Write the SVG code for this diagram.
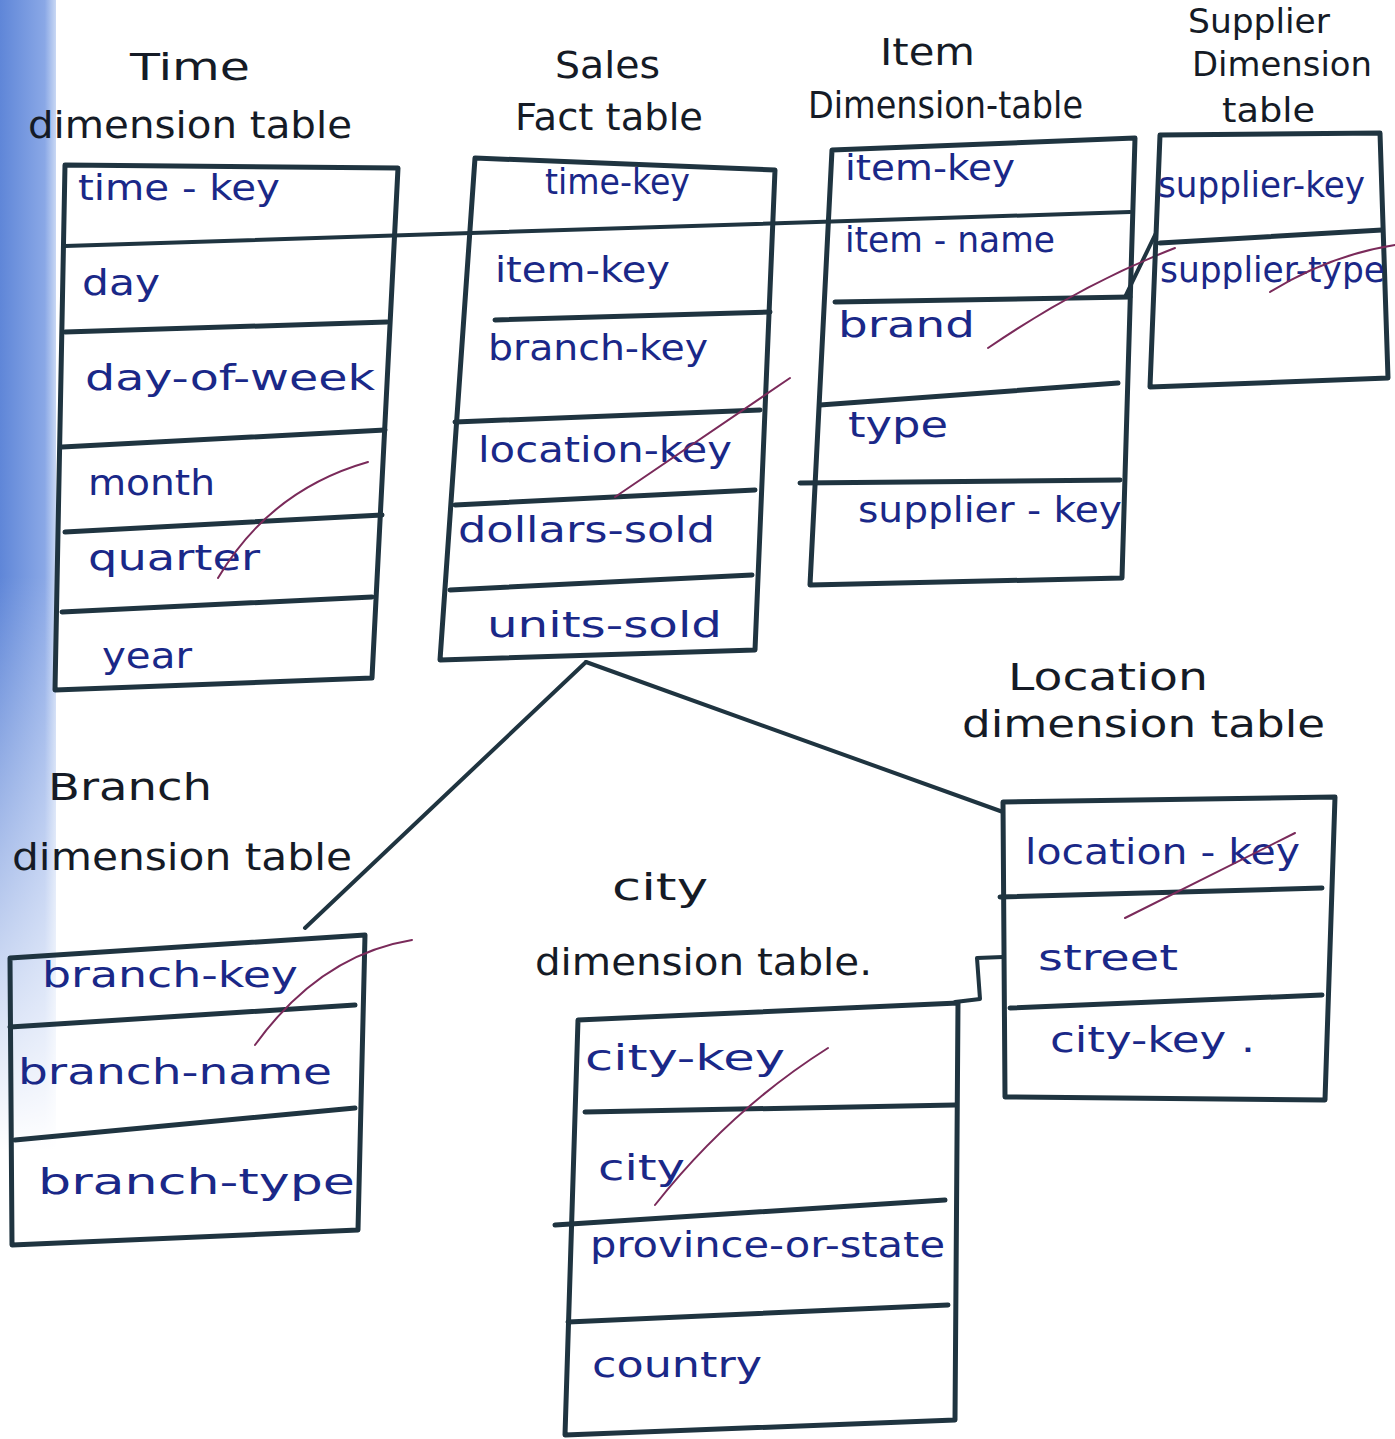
<svg xmlns="http://www.w3.org/2000/svg" width="1395" height="1439" viewBox="0 0 1395 1439">
<defs>
<linearGradient id="margin" x1="0" y1="0" x2="1" y2="0">
<stop offset="0" stop-color="#5f86d8"/>
<stop offset="0.8" stop-color="#8aa8e6"/>
<stop offset="1" stop-color="#c9d8f4"/>
</linearGradient>
<linearGradient id="fadeV" x1="0" y1="0" x2="0" y2="1">
<stop offset="0" stop-color="#fff" stop-opacity="0"/>
<stop offset="0.5" stop-color="#fff" stop-opacity="0"/>
<stop offset="1" stop-color="#fff" stop-opacity="1"/>
</linearGradient>
</defs>
<style>
.tbl{fill:none;stroke:#1f3440;stroke-width:5;stroke-linejoin:round;stroke-linecap:round}
.div{fill:none;stroke:#1f3440;stroke-width:5;stroke-linecap:round}
.con{fill:none;stroke:#1f3440;stroke-width:4;stroke-linecap:round;stroke-linejoin:round}
.mark{fill:none;stroke:#7a2a5a;stroke-width:2;stroke-linecap:round}
.ttl{font-family:"DejaVu Sans",sans-serif;font-size:38px;fill:#151b26}
.fld{font-family:"DejaVu Sans",sans-serif;font-size:36px;fill:#1a2888}
</style>
<rect width="1395" height="1439" fill="#ffffff"/>
<rect x="0" y="0" width="56" height="1150" fill="url(#margin)"/>
<rect x="0" y="0" width="56" height="1151" fill="url(#fadeV)"/>

<g id="connectors">
<path class="con" d="M65,246 L1130,212"/>
<path class="con" d="M1125,297 L1156,233"/>
<path class="con" d="M586,662 L305,928"/>
<path class="con" d="M586,662 L1003,812"/>
<path class="con" d="M1003,957 L977,958 L980,999 L955,1002"/>
</g>

<g id="time-table">
<path class="tbl" d="M65,165 L398,168 L372,678 L55,690 Z"/>
<path class="div" d="M65,332 L387,322 M62,447 L385,430 M65,532 L382,515 M62,612 L372,597"/>
<text class="ttl" x="130" y="80" textLength="120" lengthAdjust="spacingAndGlyphs">Time</text>
<text class="ttl" x="28" y="138" textLength="324" lengthAdjust="spacingAndGlyphs">dimension table</text>
<text class="fld" x="78" y="200" textLength="202" lengthAdjust="spacingAndGlyphs">time - key</text>
<text class="fld" x="82" y="295" textLength="78" lengthAdjust="spacingAndGlyphs">day</text>
<text class="fld" x="85" y="390" textLength="290" lengthAdjust="spacingAndGlyphs">day-of-week</text>
<text class="fld" x="88" y="495" textLength="127" lengthAdjust="spacingAndGlyphs">month</text>
<text class="fld" x="88" y="570" textLength="172" lengthAdjust="spacingAndGlyphs">quarter</text>
<text class="fld" x="102" y="668" textLength="90" lengthAdjust="spacingAndGlyphs">year</text>
<path class="mark" d="M218,578 Q270,490 368,462"/>
</g>

<g id="sales-table">
<path class="tbl" d="M475,158 L775,170 L755,650 L440,660 Z"/>
<path class="div" d="M495,320 L770,312 M455,422 L760,410 M455,505 L755,490 M450,590 L752,575"/>
<text class="ttl" x="555" y="78" textLength="105" lengthAdjust="spacingAndGlyphs">Sales</text>
<text class="ttl" x="515" y="130" textLength="188" lengthAdjust="spacingAndGlyphs">Fact table</text>
<text class="fld" x="545" y="194" textLength="145" lengthAdjust="spacingAndGlyphs">time-key</text>
<text class="fld" x="495" y="282" textLength="175" lengthAdjust="spacingAndGlyphs">item-key</text>
<text class="fld" x="488" y="360" textLength="220" lengthAdjust="spacingAndGlyphs">branch-key</text>
<text class="fld" x="478" y="462" textLength="254" lengthAdjust="spacingAndGlyphs">location-key</text>
<text class="fld" x="458" y="542" textLength="257" lengthAdjust="spacingAndGlyphs">dollars-sold</text>
<text class="fld" x="487" y="637" textLength="235" lengthAdjust="spacingAndGlyphs">units-sold</text>
<path class="mark" d="M615,497 L790,378"/>
</g>

<g id="item-table">
<path class="tbl" d="M832,150 L1135,138 L1122,578 L810,585 Z"/>
<path class="div" d="M835,302 L1130,297 M820,405 L1118,383 M800,483 L1120,480"/>
<text class="ttl" x="880" y="65" textLength="95" lengthAdjust="spacingAndGlyphs">Item</text>
<text class="ttl" x="808" y="118" textLength="275" lengthAdjust="spacingAndGlyphs">Dimension-table</text>
<text class="fld" x="845" y="180" textLength="170" lengthAdjust="spacingAndGlyphs">item-key</text>
<text class="fld" x="845" y="252" textLength="210" lengthAdjust="spacingAndGlyphs">item - name</text>
<text class="fld" x="838" y="337" textLength="137" lengthAdjust="spacingAndGlyphs">brand</text>
<text class="fld" x="848" y="437" textLength="100" lengthAdjust="spacingAndGlyphs">type</text>
<text class="fld" x="858" y="522" textLength="264" lengthAdjust="spacingAndGlyphs">supplier - key</text>
<path class="mark" d="M988,348 Q1080,285 1175,248"/>
</g>

<g id="supplier-table">
<path class="tbl" d="M1160,135 L1380,133 L1388,378 L1150,387 Z"/>
<path class="div" d="M1160,243 L1382,230"/>
<text class="ttl" x="1188" y="33" textLength="142" lengthAdjust="spacingAndGlyphs" style="font-size:34px">Supplier</text>
<text class="ttl" x="1192" y="76" textLength="180" lengthAdjust="spacingAndGlyphs" style="font-size:34px">Dimension</text>
<text class="ttl" x="1222" y="122" textLength="93" lengthAdjust="spacingAndGlyphs" style="font-size:34px">table</text>
<text class="fld" x="1158" y="197" textLength="207" lengthAdjust="spacingAndGlyphs">supplier-key</text>
<text class="fld" x="1160" y="282" textLength="225" lengthAdjust="spacingAndGlyphs">supplier-type</text>
<path class="mark" d="M1270,292 Q1330,255 1395,245"/>
</g>

<g id="location-table">
<path class="tbl" d="M1003,802 L1335,797 L1325,1100 L1005,1097 Z"/>
<path class="div" d="M1000,897 L1322,888 M1010,1008 L1322,995"/>
<text class="ttl" x="1008" y="690" textLength="200" lengthAdjust="spacingAndGlyphs">Location</text>
<text class="ttl" x="962" y="737" textLength="363" lengthAdjust="spacingAndGlyphs">dimension table</text>
<text class="fld" x="1025" y="864" textLength="275" lengthAdjust="spacingAndGlyphs">location - key</text>
<text class="fld" x="1038" y="970" textLength="140" lengthAdjust="spacingAndGlyphs">street</text>
<text class="fld" x="1050" y="1052" textLength="205" lengthAdjust="spacingAndGlyphs">city-key .</text>
<path class="mark" d="M1125,918 L1295,833"/>
</g>

<g id="city-table">
<path class="tbl" d="M578,1020 L958,1003 L955,1420 L565,1435 Z"/>
<path class="div" d="M585,1112 L955,1105 M555,1225 L945,1200 M568,1322 L948,1305"/>
<text class="ttl" x="612" y="900" textLength="96" lengthAdjust="spacingAndGlyphs">city</text>
<text class="ttl" x="535" y="975" textLength="337" lengthAdjust="spacingAndGlyphs">dimension table.</text>
<text class="fld" x="585" y="1070" textLength="200" lengthAdjust="spacingAndGlyphs">city-key</text>
<text class="fld" x="598" y="1180" textLength="87" lengthAdjust="spacingAndGlyphs">city</text>
<text class="fld" x="590" y="1257" textLength="355" lengthAdjust="spacingAndGlyphs">province-or-state</text>
<text class="fld" x="592" y="1377" textLength="170" lengthAdjust="spacingAndGlyphs">country</text>
<path class="mark" d="M655,1205 Q730,1110 828,1048"/>
</g>

<g id="branch-table">
<path class="tbl" d="M10,958 L365,935 L358,1230 L12,1245 Z"/>
<path class="div" d="M10,1027 L355,1005 M15,1140 L355,1108"/>
<text class="ttl" x="48" y="800" textLength="164" lengthAdjust="spacingAndGlyphs">Branch</text>
<text class="ttl" x="12" y="870" textLength="340" lengthAdjust="spacingAndGlyphs">dimension table</text>
<text class="fld" x="42" y="987" textLength="256" lengthAdjust="spacingAndGlyphs">branch-key</text>
<text class="fld" x="18" y="1084" textLength="314" lengthAdjust="spacingAndGlyphs">branch-name</text>
<text class="fld" x="38" y="1194" textLength="317" lengthAdjust="spacingAndGlyphs">branch-type</text>
<path class="mark" d="M255,1045 Q320,955 412,940"/>
</g>
</svg>
